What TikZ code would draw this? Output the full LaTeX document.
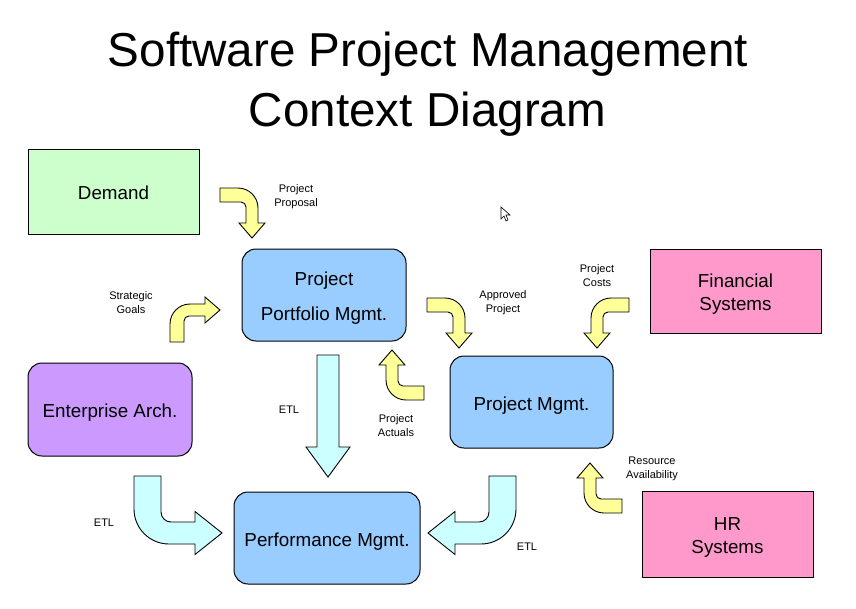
\documentclass[tikz,border=0pt]{standalone}
\usepackage{fontspec}
\setmainfont{Liberation Sans}
\definecolor{demandgreen}{HTML}{CCFFCC}
\definecolor{mgmtblue}{HTML}{99CCFF}
\definecolor{archpurple}{HTML}{CC99FF}
\definecolor{syspink}{HTML}{FF99CC}
\definecolor{flowyellow}{HTML}{FFFF99}
\definecolor{etlcyan}{HTML}{CCFFFF}
\begin{document}
\begin{tikzpicture}[x=1pt,y=-1pt,
  sys/.style={draw,line width=1pt,minimum width=171pt,minimum height=85pt},
  mgmt/.style={sys,rounded corners=14pt,fill=mgmtblue,minimum width=164pt,minimum height=92pt},
  boxtxt/.style={align=center,font=\fontsize{18.8}{23}\selectfont,yshift=-3.5pt},
  lbl/.style={align=center,font=\fontsize{11}{14}\selectfont},
  flow/.style={draw,line width=0.9pt,fill=flowyellow},
  etl/.style={draw,line width=0.9pt,fill=etlcyan},
  yarr/.pic={\draw[flow] (-32,-50) -- (-14,-50) arc[start angle=270,end angle=360,radius=20] -- (6,-15) -- (13,-15) -- (0,0) -- (-13,-15) -- (-6,-15) -- (-6,-31) arc[start angle=0,end angle=-90,radius=5] -- (-32,-36) -- cycle;},
  carr/.pic={\draw[etl] (-88,-57) -- (-61,-57) -- (-61,-21) arc[start angle=180,end angle=90,radius=10] -- (-27,-11) -- (-27,-21.5) -- (0,0) -- (-27,21.5) -- (-27,11) -- (-53,11) arc[start angle=90,end angle=180,radius=35] -- cycle;}]
  \fill[white] (0,0) rectangle (856,608);
  \useasboundingbox (0,0) rectangle (856,608);

  \node[font=\fontsize{47.6}{58}\selectfont,anchor=base] (title1) at (428,66) {Software Project Management};
  \node[font=\fontsize{47.6}{58}\selectfont,anchor=base] (title2) at (427.5,126) {Context Diagram};

  \node[sys,fill=demandgreen] (demand) at (113.5,191.5) {};
  \node[mgmt] (ppm) at (324,295) {};
  \node[mgmt,minimum width=163pt] (pm) at (531.5,402) {};
  \node[mgmt,minimum width=186pt] (perf) at (327,538) {};
  \node[mgmt,fill=archpurple,minimum height=93pt] (ea) at (110,409.5) {};
  \node[sys,fill=syspink,minimum height=84pt] (fin) at (735.5,291) {};
  \node[sys,fill=syspink,minimum height=86pt] (hr) at (727.5,534) {};

  \node[boxtxt,yshift=2pt] (demandt) at (demand) {Demand};
  \node[boxtxt] (ppmt) at (ppm) {Project\\[12pt]Portfolio Mgmt.};
  \node[boxtxt] (pmt) at (pm) {Project Mgmt.};
  \node[boxtxt] (perft) at (perf) {Performance Mgmt.};
  \node[boxtxt] (eat) at (ea) {Enterprise Arch.};
  \node[boxtxt] (fint) at (fin) {Financial\\Systems};
  \node[boxtxt,yshift=0.5pt] (hrt) at (hr) {HR\\Systems};

  \pic at (252,238) {yarr};
  \pic[rotate=90] at (220,310) {yarr};
  \pic at (459,348) {yarr};
  \pic[rotate=180] at (392,350) {yarr};
  \pic[xscale=-1] at (597,348) {yarr};
  \pic[rotate=180] at (590,463) {yarr};
  \pic at (222,533) {carr};
  \pic[xscale=-1] at (428,533) {carr};
  \draw[etl] (317,355) -- (339,355) -- (339,447) -- (350,447) -- (328,477) -- (306,447) -- (317,447) -- cycle;

  \node[lbl] (propl) at (296,197) {Project\\Proposal};
  \node[lbl] (goalsl) at (131,303) {Strategic\\Goals};
  \node[lbl] (apprl) at (503,303) {Approved\\Project};
  \node[lbl] (costl) at (597,276) {Project\\Costs};
  \node[lbl] (actl) at (396,426) {Project\\Actuals};
  \node[lbl] (resl) at (652,469) {Resource\\Availability};
  \node[lbl] (etla) at (289,410) {ETL};
  \node[lbl] (etlb) at (104,523) {ETL};
  \node[lbl] (etlc) at (527,547) {ETL};

  \draw[fill=white,line width=0.6pt] (501,207) -- (501,219) -- (504,216) -- (506,221) -- (508,220) -- (506,215) -- (510,215) -- cycle;
\end{tikzpicture}
\end{document}
